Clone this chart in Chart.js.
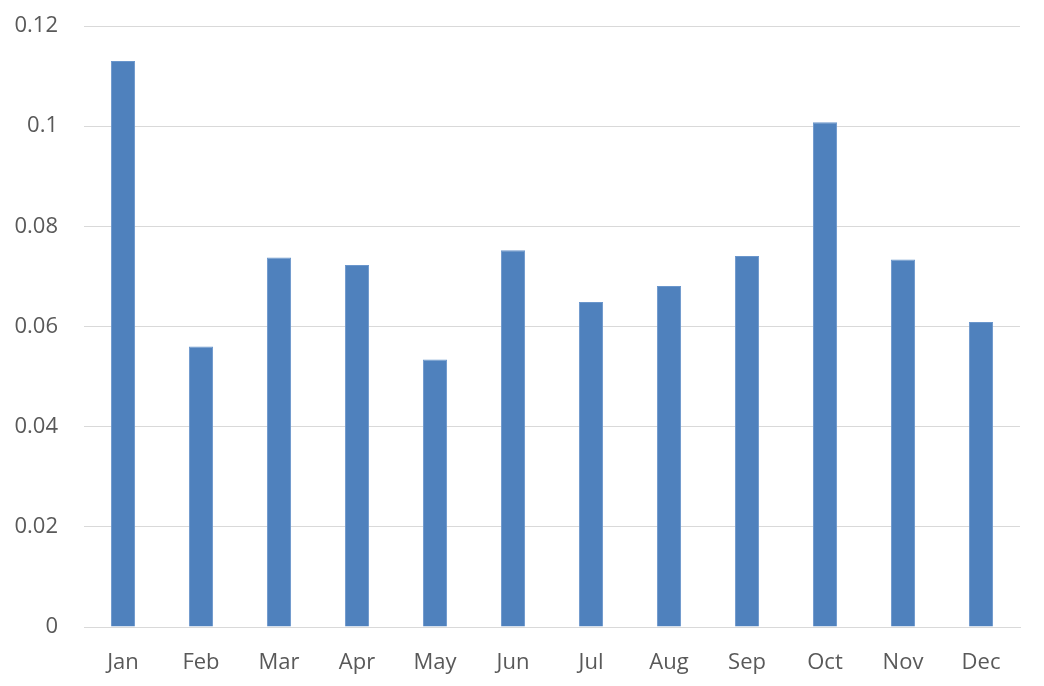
<!DOCTYPE html>
<html>
<head>
<meta charset="utf-8">
<script src="https://cdn.jsdelivr.net/npm/chart.js@4"></script>
<style>
  html, body { margin: 0; padding: 0; background: #fff; }
  #wrap { width: 1044px; height: 686px; }
</style>
</head>
<body>
<div id="wrap"><canvas id="chart"></canvas></div>
<script>
var months = ['Jan', 'Feb', 'Mar', 'Apr', 'May', 'Jun', 'Jul', 'Aug', 'Sep', 'Oct', 'Nov', 'Dec'];
var values = [0.113, 0.056, 0.0738, 0.0723, 0.0534, 0.0752, 0.0649, 0.0681, 0.0741, 0.1008, 0.0734, 0.0609];
var yTicks = [0, 0.02, 0.04, 0.06, 0.08, 0.1, 0.12];

document.addEventListener("DOMContentLoaded", function () {
    var ctx = document.getElementById('chart').getContext('2d');

    new Chart(ctx, {
        type: 'bar',
        data: {
            labels: months,
            datasets: [{
                data: values,
                backgroundColor: '#4f81bd',
                borderColor: '#6a96cc',
                borderWidth: 1,
                categoryPercentage: 1,
                barPercentage: 0.31
            }]
        },
        options: {
            responsive: true,
            maintainAspectRatio: false,
            animation: false,
            layout: { padding: { top: 26, right: 24, bottom: 0, left: 0 } },
            plugins: {
                legend: { display: false },
                tooltip: { enabled: false }
            },
            scales: {
                x: {
                    afterFit: function (axis) { axis.height = 59; },
                    grid: { display: false, drawTicks: false },
                    border: { color: '#d9d9d9', width: 1 },
                    ticks: {
                        color: '#595959',
                        font: { family: 'Open Sans', size: 22 },
                        padding: 23,
                        maxRotation: 0
                    }
                },
                y: {
                    min: 0,
                    max: 0.12,
                    afterBuildTicks: function (axis) {
                        axis.ticks = yTicks.map(function (v) { return { value: v }; });
                    },
                    afterFit: function (axis) {
                        axis.width = 84;
                        axis.paddingTop = 0;
                        axis.paddingBottom = 0;
                    },
                    grid: { color: '#d9d9d9', lineWidth: 1, drawTicks: false },
                    border: { display: false },
                    ticks: {
                        color: '#595959',
                        font: { family: 'Open Sans', size: 22 },
                        padding: 26,
                        callback: function (v) { return String(Math.round(v * 100) / 100); }
                    }
                }
            }
        }
    });
});
</script>
</body>
</html>
